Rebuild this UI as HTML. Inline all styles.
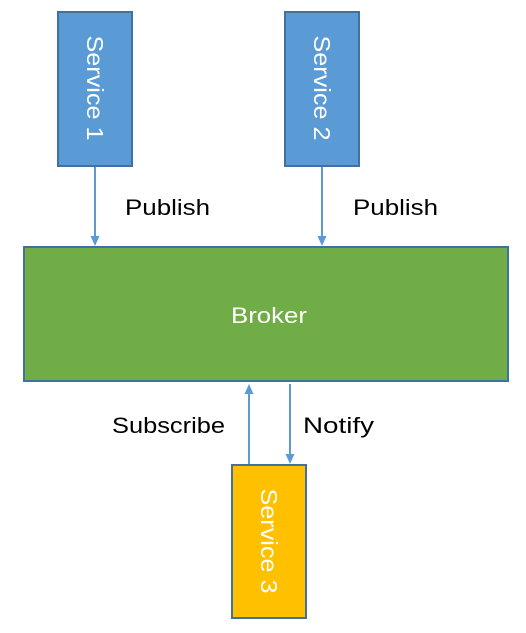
<!DOCTYPE html>
<html><head><style>body{margin:0;background:#fff}svg{display:block}</style></head>
<body>
<svg width="526" height="633" xmlns="http://www.w3.org/2000/svg" font-family="Liberation Sans, sans-serif">
<defs><marker id="a" markerWidth="10" markerHeight="10" refX="5" refY="5" orient="auto" markerUnits="userSpaceOnUse"><path d="M0,0.5 L10,5 L0,9.5 z" fill="#5b9bd5"/></marker></defs>
<rect x="58" y="12" width="74" height="154" fill="#5b9bd5" stroke="#41719c" stroke-width="2"/>
<rect x="285" y="12" width="74" height="154" fill="#5b9bd5" stroke="#41719c" stroke-width="2"/>
<rect x="24" y="247" width="484" height="134" fill="#70ad47" stroke="#41719c" stroke-width="2"/>
<rect x="232" y="465" width="74" height="153" fill="#ffc000" stroke="#41719c" stroke-width="2"/>
<g stroke="#5b9bd5" stroke-width="2">
<line x1="95" y1="167" x2="95" y2="241" marker-end="url(#a)"/>
<line x1="322" y1="167" x2="322" y2="241" marker-end="url(#a)"/>
<line x1="249" y1="464" x2="249" y2="389" marker-end="url(#a)"/>
<line x1="290" y1="384" x2="290" y2="459" marker-end="url(#a)"/>
</g>
<g fill="#fff" font-size="23" text-anchor="middle">
<text transform="translate(87,88) rotate(90)" textLength="105" lengthAdjust="spacingAndGlyphs">Service 1</text>
<text transform="translate(314,88) rotate(90)" textLength="105" lengthAdjust="spacingAndGlyphs">Service 2</text>
<text transform="translate(261,541) rotate(90)" textLength="105" lengthAdjust="spacingAndGlyphs">Service 3</text>
<text x="269" y="323" font-size="22" textLength="76" lengthAdjust="spacingAndGlyphs">Broker</text>
</g>
<g fill="#000" font-size="22">
<text x="125" y="215" textLength="85" lengthAdjust="spacingAndGlyphs">Publish</text>
<text x="353" y="215" textLength="85" lengthAdjust="spacingAndGlyphs">Publish</text>
<text x="112" y="433" textLength="113" lengthAdjust="spacingAndGlyphs">Subscribe</text>
<text x="303" y="433" textLength="71" lengthAdjust="spacingAndGlyphs">Notify</text>
</g>
</svg>
</body></html>
